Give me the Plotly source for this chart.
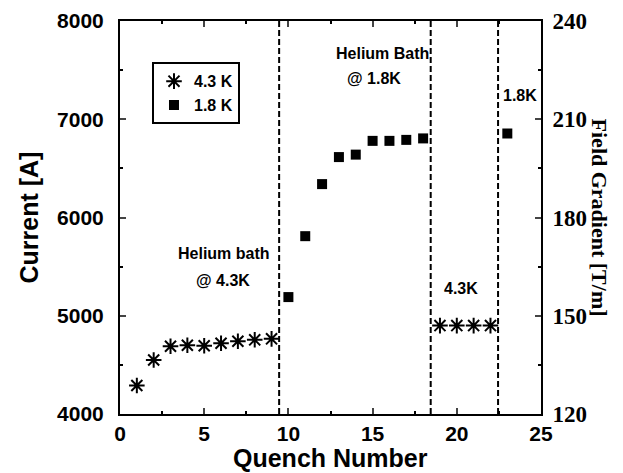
import plotly.graph_objects as go

# Quench history data
quench_43k = [1, 2, 3, 4, 5, 6, 7, 8, 9, 19, 20, 21, 22]
current_43k = [4290, 4550, 4690, 4700, 4695, 4720, 4740, 4755, 4765, 4900, 4900, 4900, 4900]
quench_18k = [10, 11, 12, 13, 14, 15, 16, 17, 18, 23]
current_18k = [5190, 5810, 6340, 6615, 6640, 6780, 6780, 6790, 6805, 6855]
bath_changes = [9.45, 18.45, 22.45]

SANS = "Liberation Sans, Arial, sans-serif"
SERIF = "Liberation Serif, Times New Roman, serif"

fig = go.Figure()

fig.add_trace(go.Scatter(
    x=quench_43k, y=current_43k, mode="markers", name="4.3 K",
    marker=dict(symbol="asterisk-open", size=13, color="black",
                line=dict(width=2, color="black")),
))
fig.add_trace(go.Scatter(
    x=quench_18k, y=current_18k, mode="markers", name="1.8 K",
    marker=dict(symbol="square", size=10, color="black"),
))
# empty trace to bring up the right-hand axis
fig.add_trace(go.Scatter(x=[], y=[], yaxis="y2", showlegend=False))

for xv in bath_changes:
    fig.add_shape(type="line", xref="x", yref="paper", x0=xv, x1=xv, y0=0, y1=1,
                  line=dict(color="black", width=2, dash="6px,3px"))

notes = [
    (6.2, 5630, "Helium bath"),
    (6.1, 5360, "@ 4.3K"),
    (15.6, 7665, "Helium Bath"),
    (15.1, 7410, "@ 1.8K"),
    (23.75, 7240, "1.8K"),
    (20.25, 5280, "4.3K"),
]
for x, y, t in notes:
    fig.add_annotation(x=x, y=y, text=t, showarrow=False,
                       font=dict(family=SANS, size=16, color="black", weight="bold"))

# axis titles placed as annotations
fig.add_annotation(xref="paper", yref="paper", x=1.14, y=0.5, xanchor="center",
                   text="Field Gradient [T/m]", textangle=90, showarrow=False,
                   font=dict(family=SERIF, size=22, color="black", weight="bold"))
fig.add_annotation(xref="paper", yref="paper", x=-0.2185, y=0.5, xanchor="center",
                   text="Current [A]", textangle=-90, showarrow=False,
                   font=dict(family=SANS, size=25, color="black", weight="bold"))
fig.add_annotation(xref="paper", yref="paper", x=0.5, y=-0.112, yanchor="middle",
                   text="Quench Number", showarrow=False,
                   font=dict(family=SANS, size=25, color="black", weight="bold"))

# page body adds an 8px margin, so the figure is 8px smaller than the window
fig.update_layout(
    width=615, height=465,
    margin=dict(l=112, r=82, t=13, b=59),
    plot_bgcolor="white", paper_bgcolor="white",
    xaxis=dict(range=[0, 25], dtick=5, ticks="inside", ticklen=6, tickwidth=1.5,
               showgrid=False, zeroline=False, showline=True, linecolor="black",
               linewidth=2, mirror="ticks", automargin=False,
               minor=dict(dtick=2.5, ticks="inside", ticklen=3, tickcolor="black"),
               tickfont=dict(family=SANS, size=21, color="black", weight="bold")),
    yaxis=dict(range=[4000, 8000], dtick=1000, ticks="inside", ticklen=6, tickwidth=1.5,
               showgrid=False, zeroline=False, showline=True, linecolor="black",
               linewidth=2, automargin=False, ticklabelstandoff=10,
               minor=dict(dtick=500, ticks="inside", ticklen=3, tickcolor="black"),
               tickfont=dict(family=SANS, size=21, color="black", weight="bold")),
    yaxis2=dict(range=[120, 240], dtick=30, overlaying="y", side="right",
                ticks="inside", ticklen=6, tickwidth=1.5, showgrid=False,
                zeroline=False, showline=True, linecolor="black", linewidth=2,
                automargin=False, ticklabelstandoff=5,
                minor=dict(dtick=15, ticks="inside", ticklen=3, tickcolor="black"),
                tickfont=dict(family=SERIF, size=23, color="black", weight="bold")),
    legend=dict(x=0.076, y=0.895, xanchor="left", yanchor="top",
                bgcolor="white", bordercolor="black", borderwidth=2,
                font=dict(family=SANS, size=16, color="black", weight="bold"),
                itemwidth=30, tracegroupgap=0),
)

fig.write_html("out.html")
